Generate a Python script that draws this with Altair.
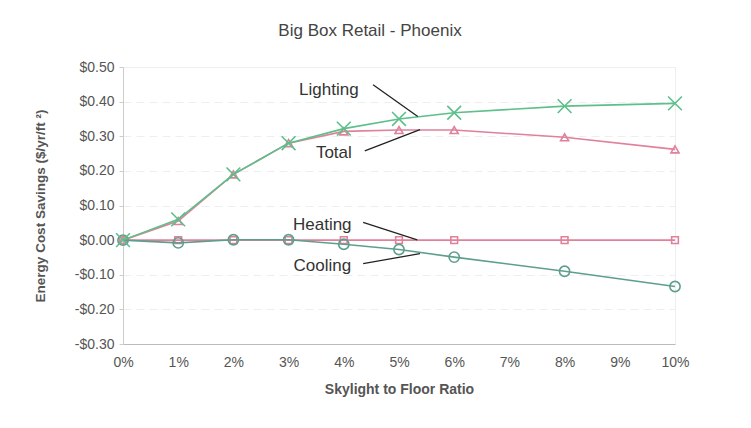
import pandas as pd
import altair as alt

# skylight to floor ratio, percent
ratio = [0, 1, 2, 3, 4, 5, 6, 8, 10]

lighting = [0.000, 0.060, 0.190, 0.280, 0.322, 0.350, 0.368, 0.387, 0.395]
total = [0.000, 0.055, 0.190, 0.280, 0.314, 0.318, 0.318, 0.297, 0.262]
heating = [0.000, 0.000, 0.000, 0.000, 0.000, 0.000, 0.000, 0.000, 0.000]
cooling = [0.000, -0.008, 0.001, 0.001, -0.012, -0.027, -0.049, -0.090, -0.134]

y_ticks = [-0.3, -0.2, -0.1, 0.0, 0.1, 0.2, 0.3, 0.4, 0.5]

# annotation labels and their leader lines, in data units
label_names = ["Lighting", "Total", "Heating", "Cooling"]
label_x = [3.73, 3.82, 3.61, 3.61]
label_y = [0.435, 0.253, 0.045, -0.074]
leader_x = [4.53, 4.38, 4.35, 4.35]
leader_y = [0.449, 0.258, 0.051, -0.068]
leader_x2 = [5.34, 5.38, 5.33, 5.38]
leader_y2 = [0.357, 0.319, 0.001, -0.039]

green = "#5dbf8a"
pink = "#e0809a"
teal = "#5e9e8e"

series = [
    # name, values, colour, shape, size
    ("Heating", heating, pink, "square", 45),
    ("Total", total, pink, "triangle-up", 65),
    ("Cooling", cooling, teal, "circle", 105),
    ("Lighting", lighting, green, "M-1,-1L1,1M-1,1L1,-1", 190),
]

x_axis = alt.Axis(values=list(range(11)), tickCount=20, labelExpr="datum.value + '%'",
                  title="Skylight to Floor Ratio", grid=False, tickSize=0,
                  labelFlush=False, labelPadding=11, titlePadding=13,
                  titleFontSize=14)
x_scale = alt.Scale(domain=[0, 10], nice=False)
# tickCount kept high so vega does not thin out the explicit values
y_axis = alt.Axis(values=y_ticks, tickCount=20,
                  labelExpr="datum.value < -0.0001 ? '-$' + format(-datum.value, '.2f') : '$' + format(abs(datum.value), '.2f')",
                  labelOverlap=False, labelFlush=False,
                  title="Energy Cost Savings ($/yr/ft ²)", titleFontSize=13.5,
                  grid=True, gridColor="#eeeeee",
                  gridDash=[8, 5], tickSize=4, labelPadding=5, titlePadding=27)
y_scale = alt.Scale(domain=[-0.3, 0.5], nice=False)

x_enc = alt.X("ratio:Q", scale=x_scale, axis=x_axis)
y_enc = alt.Y("value:Q", scale=y_scale, axis=y_axis)

layers = []
for name, vals, col, shp, sz in series:
    df = pd.DataFrame({"ratio": ratio, "value": vals})
    base = alt.Chart(df).encode(x=x_enc, y=y_enc)
    line = base.mark_line(color=col, strokeWidth=1.6)
    pts = base.mark_point(shape=shp, size=sz, filled=False, color=col, strokeWidth=1.6,
                          opacity=1)
    layers += [line, pts]

ann = pd.DataFrame({"name": label_names, "x": label_x, "y": label_y,
                    "lx": leader_x, "ly": leader_y, "lx2": leader_x2, "ly2": leader_y2})
leaders = alt.Chart(ann).mark_rule(color="#222222", strokeWidth=1.3).encode(
    x="lx:Q", y="ly:Q", x2="lx2:Q", y2="ly2:Q")
labels = alt.Chart(ann).mark_text(fontSize=17, color="#333333", font="Liberation Sans").encode(
    x="x:Q", y="y:Q", text="name:N")

chart = alt.layer(*layers, leaders, labels).properties(
    width=552,
    height=277,
    autosize=alt.AutoSizeParams(type="none"),
    padding={"left": 115, "top": 59, "right": 68, "bottom": 70},
    title=alt.TitleParams("Big Box Retail - Phoenix", anchor="middle", dx=-29, offset=20,
                          fontSize=17, fontWeight="normal", color="#444444",
                          font="Liberation Sans"),
).configure_view(
    stroke="#eeeeee"
).configure_axis(
    labelFont="Liberation Sans", titleFont="Liberation Sans",
    labelFontSize=14, labelColor="#555555", titleColor="#555555",
    domainColor="#cccccc", tickColor="#cccccc"
).configure_axisX(
    domainColor="#bbbbbb"
).configure_axisY(
    labelOverlap=False
)

chart.save("out.html", embed_options={"renderer": "svg", "actions": False})
